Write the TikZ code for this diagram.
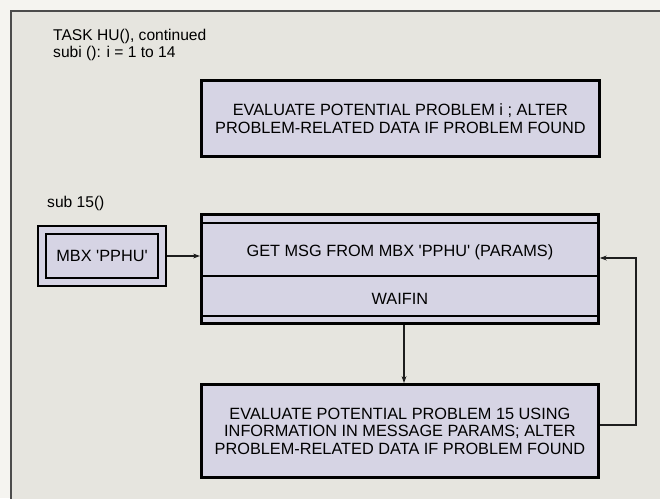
\documentclass[tikz,border=0pt]{standalone}
\usepackage{fontspec}
\setmainfont{Liberation Sans}
\usetikzlibrary{arrows.meta, positioning, calc}
\definecolor{paperwhite}{RGB}{245,244,240}
\definecolor{panelgray}{RGB}{230,229,223}
\definecolor{boxlav}{RGB}{214,212,228}
\definecolor{inkgray}{RGB}{30,30,30}
\newcommand{\sq}{\textquotesingle}

\begin{document}
\begin{tikzpicture}[x=1pt, y=-1pt,
    taskbox/.style={rectangle, draw=black, line width=2.8pt, fill=boxlav, align=center,
      font=\fontsize{16.3}{17.5}\selectfont, inner sep=0pt, anchor=north west},
    label/.style={align=left, anchor=north west, inner sep=0pt,
      font=\fontsize{15.6}{17}\selectfont},
    arrow/.style={-{Stealth[length=2.4mm, width=1.7mm]}, line width=1.3pt, inkgray}]
    \useasboundingbox (0,0) rectangle (660,498);
    \fill[paperwhite] (0,0) rectangle (660,498);
    \filldraw[fill=panelgray, draw=black!70, line width=1.2pt] (11,11) -- (11,502) -- (664,502) -- (664,11) -- cycle;
    % headings
    \node[label] (title) at (53,29) {TASK HU(), continued\\subi (): i = 1 to 14};
    \node[label] (subhead) at (47,196) {sub 15()};
    % boxes
    \node[taskbox, minimum width=398pt, minimum height=76pt, font=\fontsize{16.3}{18}\selectfont] (evali) at (200,79)
      {EVALUATE POTENTIAL PROBLEM i ; ALTER\\PROBLEM-RELATED DATA IF PROBLEM FOUND};
    \node[rectangle, draw=black, line width=2pt, fill=boxlav, minimum width=128pt,
      minimum height=60pt, anchor=north west] (mbxout) at (37,225) {};
    \node[taskbox, line width=2pt, minimum width=112pt, minimum height=44pt]
      (mbx) at (mbxout.center) [anchor=center] {MBX \sq PPHU\sq};
    \node[taskbox, minimum width=397pt, minimum height=109pt] (getmsg) at (200,213) {};
    \draw[line width=2.4pt] ($(getmsg.north west)+(0,10)$) -- ($(getmsg.north east)+(0,10)$);
    \draw[line width=2.4pt] ($(getmsg.north west)+(0,63)$) -- ($(getmsg.north east)+(0,63)$);
    \draw[line width=2.4pt] ($(getmsg.south west)+(0,-9)$) -- ($(getmsg.south east)+(0,-9)$);
    \node[font=\fontsize{16.3}{17.5}\selectfont] (getlbl) at ($(getmsg.north)+(0,39)$)
      {GET MSG FROM MBX \sq PPHU\sq{} (PARAMS)};
    \node[font=\fontsize{16.3}{17.5}\selectfont] (waitlbl) at ($(getmsg.north)+(0,86)$) {WAIFIN};
    \node[taskbox, minimum width=397pt, minimum height=93pt] (evalf) at (200,383)
      {EVALUATE POTENTIAL PROBLEM 15 USING\\INFORMATION IN MESSAGE PARAMS; ALTER\\PROBLEM-RELATED DATA IF PROBLEM FOUND};
    % connectors
    \coordinate (loopbot) at (636,425);
    \coordinate (looptop) at (636,258);
    \draw[arrow] (mbxout.east) -- (getmsg.west |- mbxout.east);
    \draw[arrow] (getmsg.south -| 404,0) -- (evalf.north -| 404,0);
    \draw[arrow] (evalf.east |- loopbot) -- (loopbot) -- (looptop) -- (getmsg.east |- looptop);
  \end{tikzpicture}
\end{document}
